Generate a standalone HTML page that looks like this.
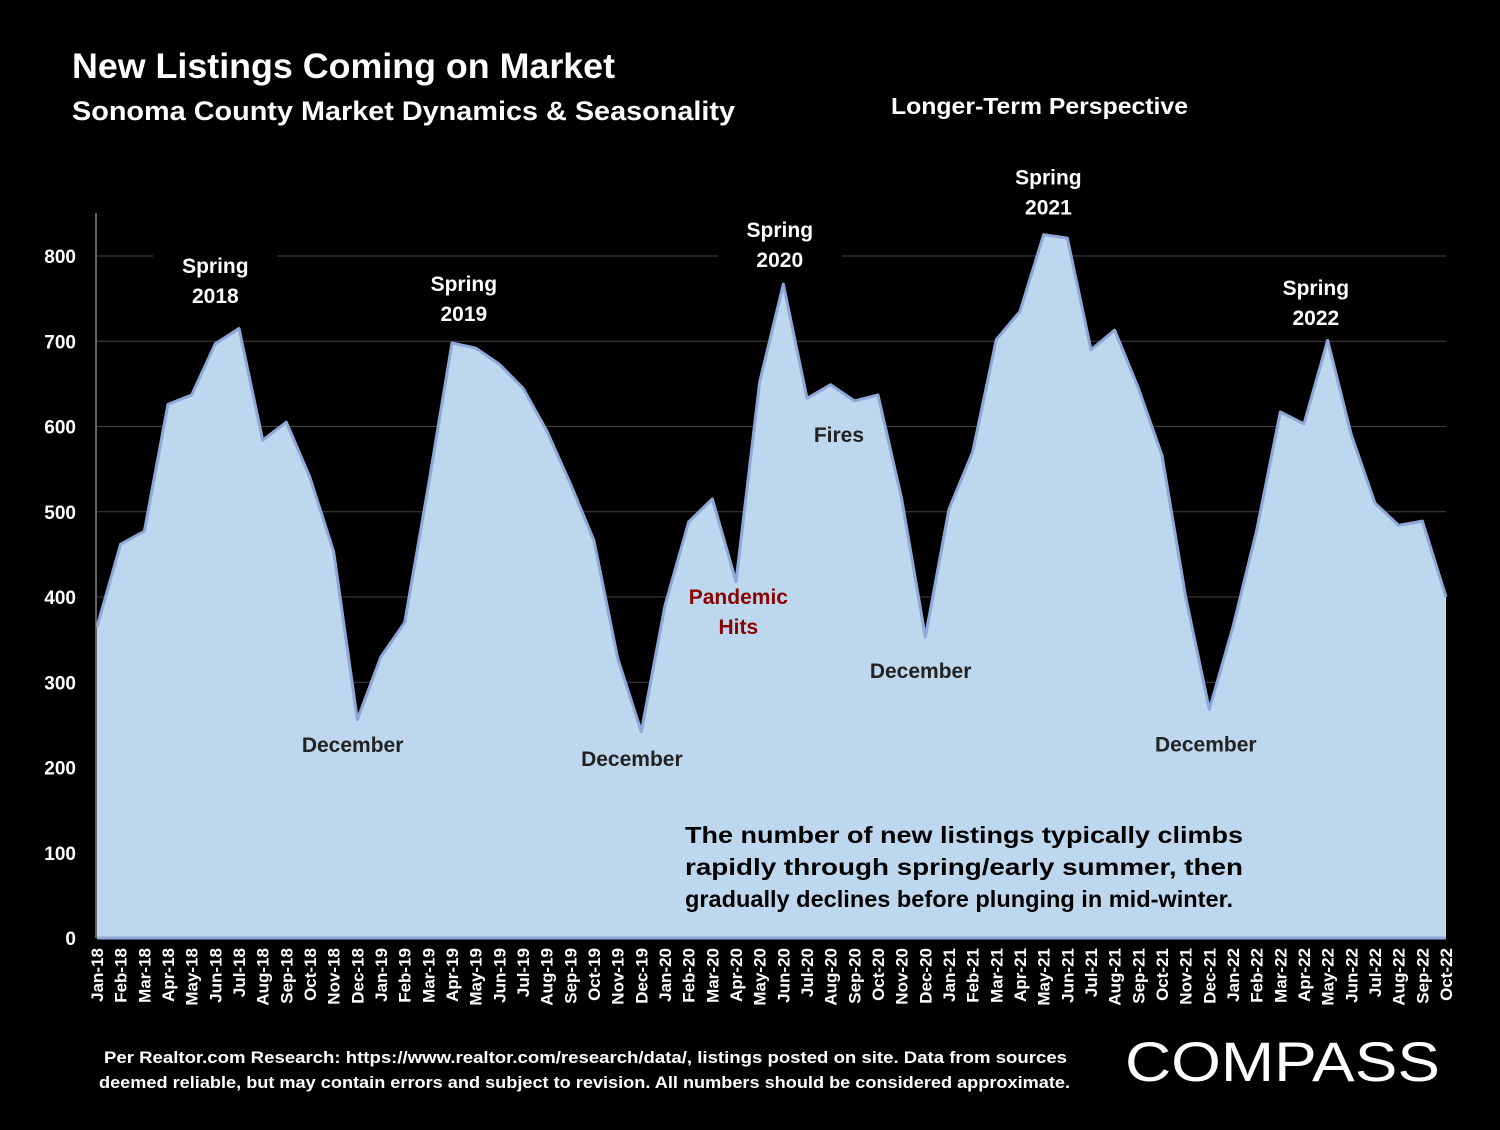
<!DOCTYPE html>
<html><head><meta charset="utf-8"><style>
body{margin:0;background:#000;width:1500px;height:1125px;overflow:hidden;font-family:"Liberation Sans",sans-serif}
svg text{font-family:"Liberation Sans",sans-serif;font-weight:bold}
</style></head><body>
<svg width="1500" height="1125">
<rect width="1500" height="1125" fill="#000"/>
<text x="72" y="78" fill="#fff" font-size="35" textLength="543" lengthAdjust="spacingAndGlyphs">New Listings Coming on Market</text>
<text x="72" y="120" fill="#fff" font-size="27" textLength="663" lengthAdjust="spacingAndGlyphs">Sonoma County Market Dynamics &amp; Seasonality</text>
<text x="891" y="114" fill="#fff" font-size="23" textLength="297" lengthAdjust="spacingAndGlyphs">Longer-Term Perspective</text>
<g id="grid"></g>
<g id="area"></g>
<line x1="96" y1="213" x2="96" y2="938" stroke="#888" stroke-width="1.5"/>
<g id="yticks"></g>
<g id="xticks"></g>
<g id="ann"></g>
<text font-size="23" fill="#000">
<tspan x="685" y="843" textLength="558" lengthAdjust="spacingAndGlyphs">The number of new listings typically climbs</tspan>
<tspan x="685" y="875" textLength="558" lengthAdjust="spacingAndGlyphs">rapidly through spring/early summer, then</tspan>
<tspan x="685" y="907" textLength="548" lengthAdjust="spacingAndGlyphs">gradually declines before plunging in mid-winter.</tspan>
</text>
<text font-size="17" fill="#fff">
<tspan x="104" y="1063" textLength="963" lengthAdjust="spacingAndGlyphs">Per Realtor.com Research:  https://www.realtor.com/research/data/, listings posted on site. Data from sources</tspan>
<tspan x="99" y="1088" textLength="971" lengthAdjust="spacingAndGlyphs">deemed reliable, but may contain errors and subject to revision. All numbers should be considered approximate.</tspan>
</text>
<text x="1125" y="1081" fill="#fff" font-size="56" textLength="315" lengthAdjust="spacingAndGlyphs" style="font-weight:normal">COMPASS</text>
</svg>
<script>
const months=["Jan","Feb","Mar","Apr","May","Jun","Jul","Aug","Sep","Oct","Nov","Dec"];
const categories=[];
for(let y=18;y<=22;y++)for(let m=0;m<12;m++){if(y===22&&m>9)break;categories.push(months[m]+"-"+y);}
const values=[365,462,477,626,637,697,715,584,605,540,453,256,
330,370,530,698,692,673,645,595,533,466,328,242,
390,488,515,418,652,767,633,649,630,637,515,353,
503,570,702,735,825,821,690,713,645,566,400,268,
365,478,617,603,701,590,510,484,489,400];
const yTicks=[0,100,200,300,400,500,600,700,800];
const annotations=[
{lines:["Spring","2018"],i:5.0,v:780,c:"#fff",bg:1},
{lines:["Spring","2019"],i:15.5,v:759,c:"#fff",bg:1},
{lines:["Spring","2020"],i:28.85,v:822,c:"#fff",bg:1},
{lines:["Spring","2021"],i:40.2,v:884,c:"#fff",bg:1},
{lines:["Spring","2022"],i:51.5,v:754,c:"#fff",bg:1},
{lines:["December"],i:10.8,v:218,c:"#222"},
{lines:["December"],i:22.6,v:202,c:"#222"},
{lines:["December"],i:34.8,v:305,c:"#222"},
{lines:["December"],i:46.85,v:219,c:"#222"},
{lines:["Fires"],i:31.35,v:582,c:"#222"},
{lines:["Pandemic","Hits"],i:27.1,v:392,c:"#8b0000"}];
const X0=97,X1=1446,Y0=938,YS=682/800;
const x=i=>X0+i*(X1-X0)/(categories.length-1);
const y=v=>Y0-v*YS;
const NS="http://www.w3.org/2000/svg";
function mk(t,a,p){const e=document.createElementNS(NS,t);for(const k in a)e.setAttribute(k,a[k]);p.appendChild(e);return e;}
const grid=document.getElementById('grid'),yt=document.getElementById('yticks');
yTicks.forEach(v=>{
 if(v>0){const l=mk('line',{x1:X0,x2:X1,y1:y(v),y2:y(v),stroke:'#444','stroke-width':1},grid);
 
 }
 const t=mk('text',{x:76,y:y(v)+7,fill:'#fff','font-size':19,'text-anchor':'end'},yt);t.textContent=v;
 
 
});
const area=document.getElementById('area');
let d="M"+x(0)+","+Y0;values.forEach((v,i)=>d+=" L"+x(i)+","+y(v));d+=" L"+x(values.length-1)+","+Y0+"Z";
const ap=mk('path',{d:d,fill:'#bdd7ee'},area);


let ld="";values.forEach((v,i)=>ld+=(i?" L":"M")+x(i)+","+y(v));
const lp=mk('path',{d:ld,fill:'none',stroke:'#8fa8d8','stroke-width':3,'stroke-linejoin':'round'},area);


const bl=mk('line',{x1:X0,x2:X1,y1:Y0,y2:Y0,stroke:'#8fa8d8','stroke-width':3},area);


const xt=document.getElementById('xticks');
categories.forEach((c,i)=>{const t=mk('text',{x:0,y:0,fill:'#fff','font-size':17,'text-anchor':'end',transform:`translate(${x(i)+6},948) rotate(-90)`},xt);t.textContent=c;
 
 });
const an=document.getElementById('ann');
annotations.forEach(a=>{
 const cx=x(a.i),ty=y(a.v);
 if(a.bg){const r=mk('rect',{x:cx-62,y:ty-24,width:124,height:a.lines.length*30+4,fill:'#000'},an);
 
 }
 a.lines.forEach((s,k)=>{const t=mk('text',{x:cx,y:ty+k*30,fill:a.c,'font-size':21,'text-anchor':'middle'},an);t.textContent=s;
 
 });
});
</script>
</body></html>
